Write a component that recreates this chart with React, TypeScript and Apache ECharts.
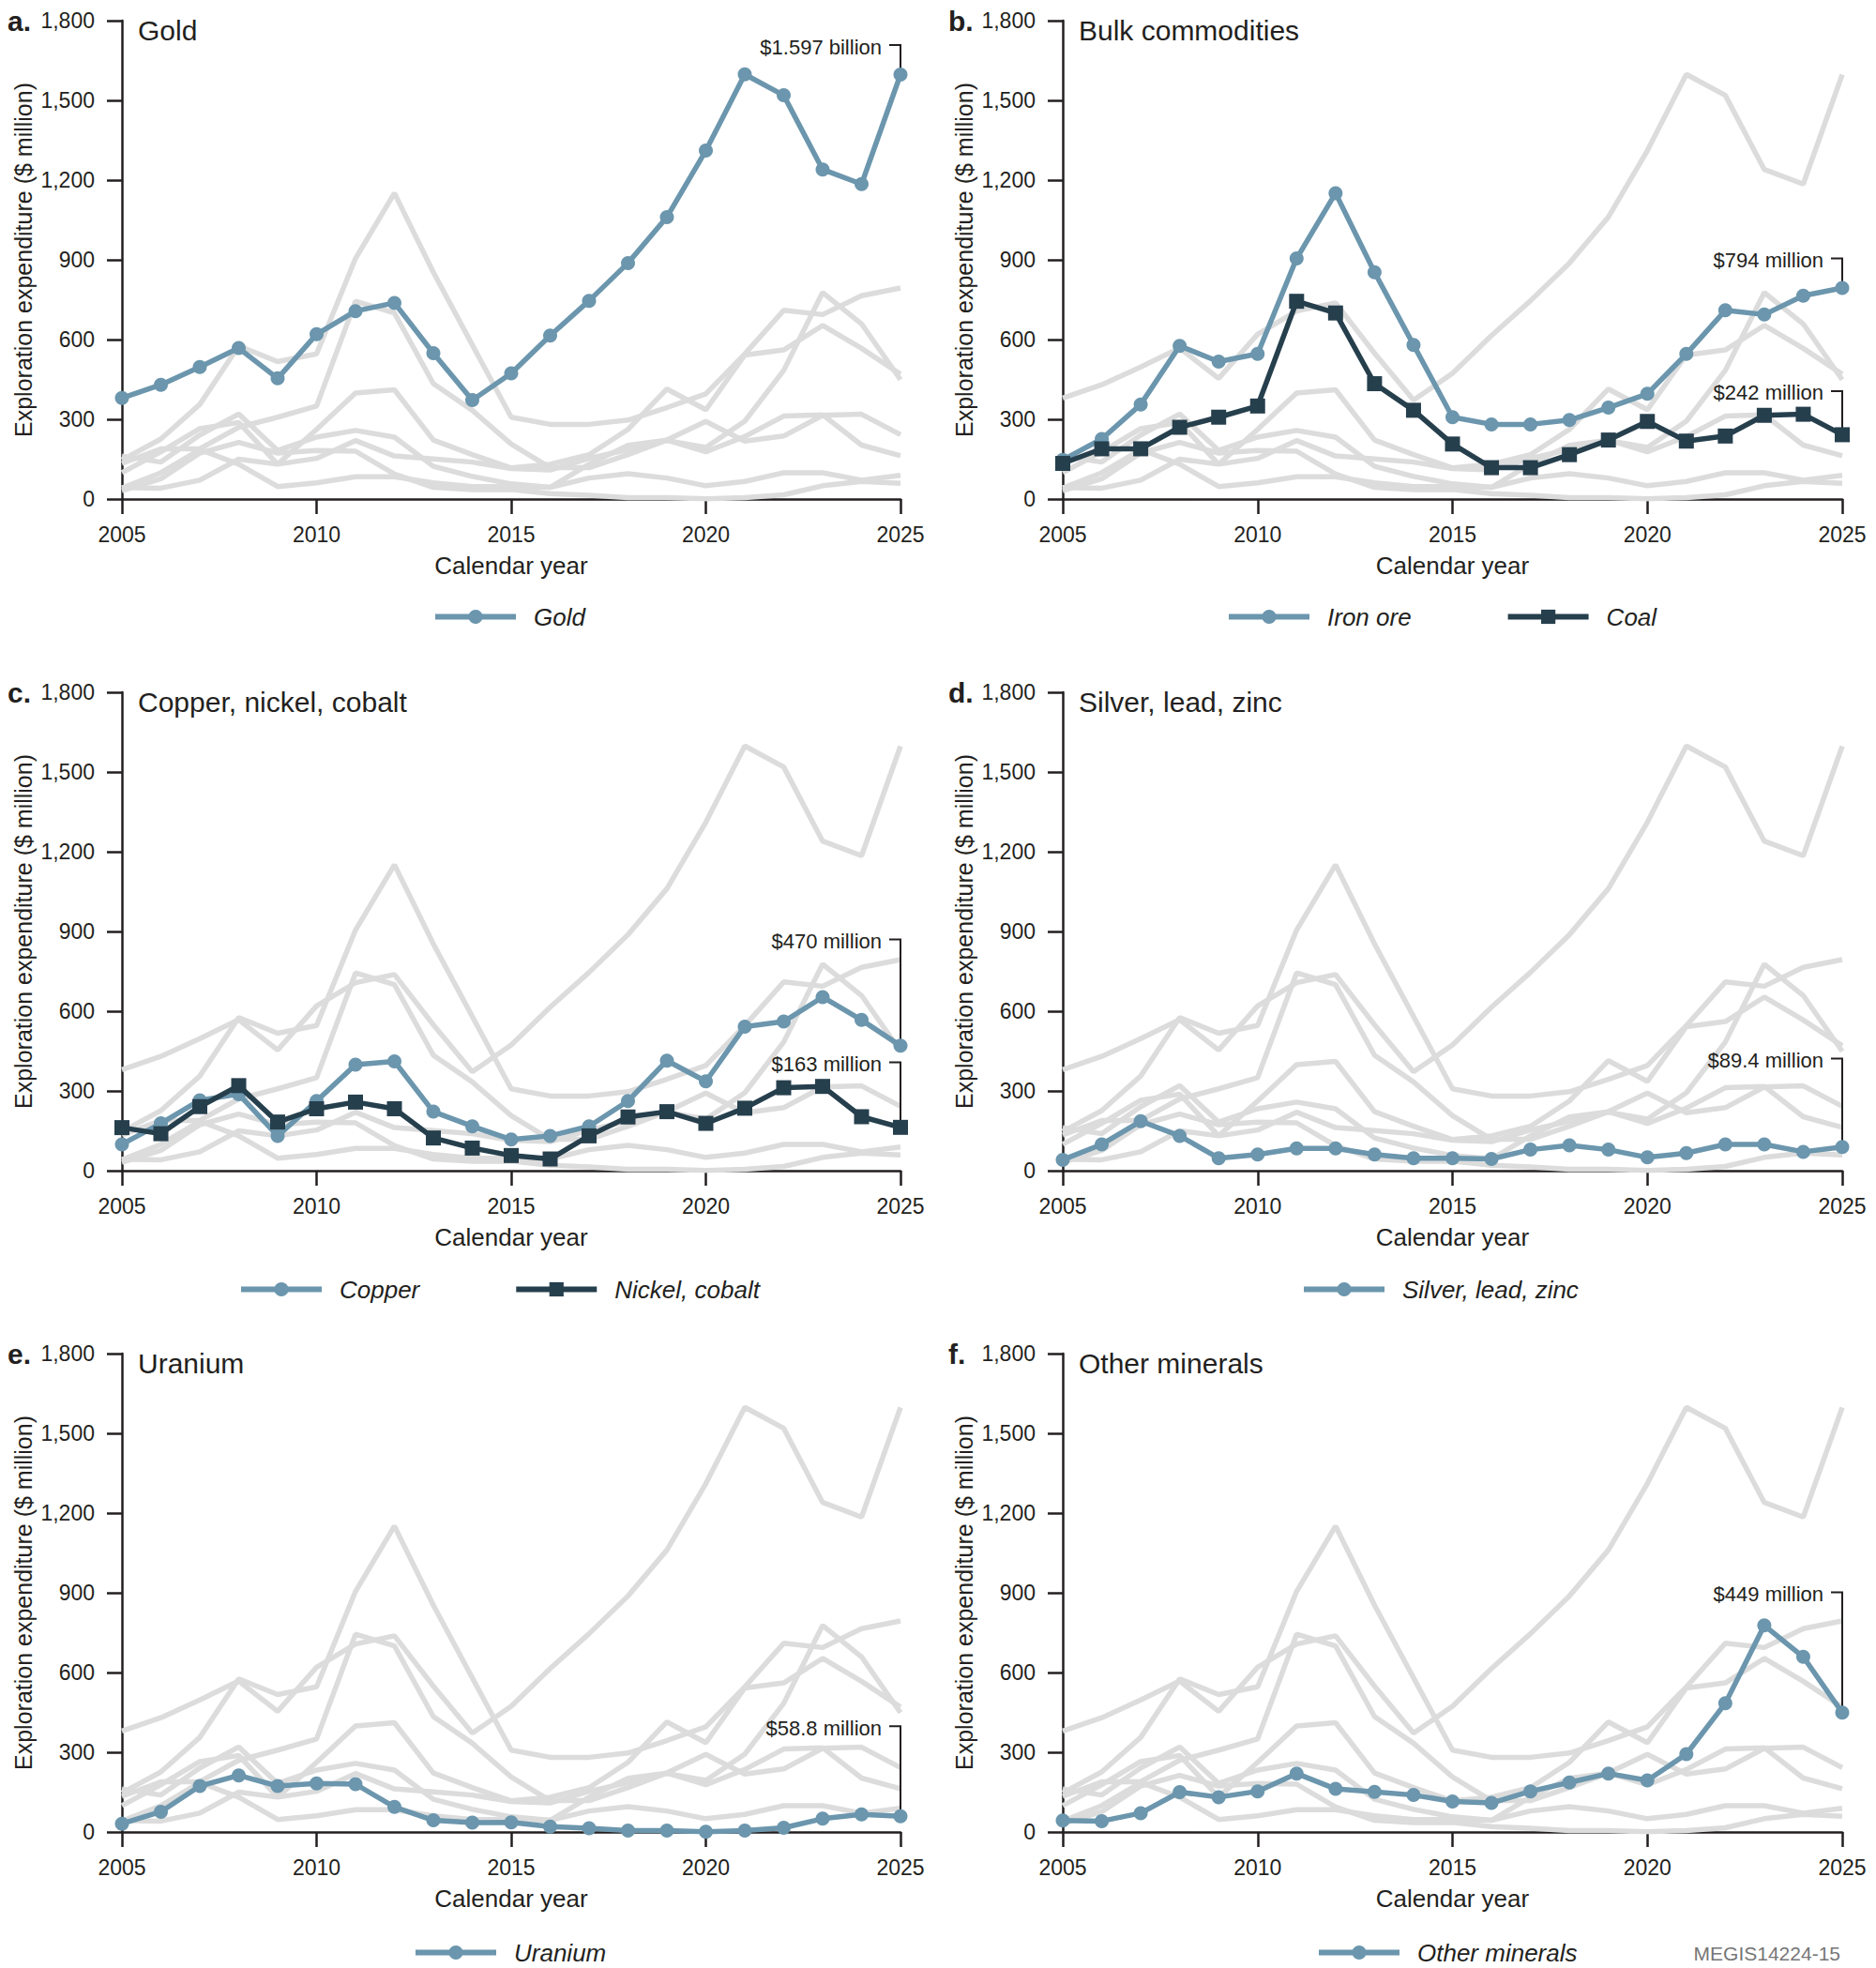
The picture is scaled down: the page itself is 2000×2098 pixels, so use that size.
import React, { useEffect, useRef } from "react";
import * as echarts from "echarts";

const years = [2005, 2006, 2007, 2008, 2009, 2010, 2011, 2012, 2013, 2014, 2015, 2016, 2017, 2018, 2019, 2020, 2021, 2022, 2023, 2024, 2025];

const gold = [380, 430, 497, 568, 454, 620, 707, 738, 549, 372, 473, 615, 746, 888, 1061, 1311, 1598, 1519, 1240, 1185, 1597];
const ironOre = [147, 226, 356, 576, 517, 546, 905, 1151, 853, 580, 308, 281, 281, 297, 344, 396, 546, 710, 694, 765, 794];
const coal = [134, 189, 189, 270, 308, 350, 744, 700, 434, 334, 207, 118, 118, 167, 222, 292, 218, 237, 315, 319, 242];
const copper = [99, 178, 265, 288, 131, 262, 399, 411, 222, 167, 117, 131, 167, 262, 414, 336, 542, 561, 653, 567, 470];
const nickelCobalt = [162, 139, 241, 320, 183, 233, 258, 233, 123, 85, 57, 44, 131, 202, 222, 178, 235, 312, 317, 203, 163];
const silverLeadZinc = [41, 99, 186, 131, 47, 61, 84, 84, 61, 47, 47, 44, 79, 95, 79, 50, 66, 99, 99, 71, 89.4];
const uranium = [31, 76, 173, 213, 173, 183, 180, 94, 44, 35, 36, 20, 14, 5, 5, 1, 5, 16, 50, 66, 58.8];
const otherMinerals = [43, 41, 71, 150, 131, 153, 220, 162, 151, 139, 115, 109, 153, 186, 220, 194, 293, 484, 777, 659, 449];

const yTicks = { min: 0, max: 1800, interval: 300 };
const xTicks = { min: 2005, max: 2025, interval: 5 };

const allSeries = [
  { key: "gold", name: "Gold", data: gold },
  { key: "iron", name: "Iron ore", data: ironOre },
  { key: "coal", name: "Coal", data: coal },
  { key: "copper", name: "Copper", data: copper },
  { key: "nickel", name: "Nickel, cobalt", data: nickelCobalt },
  { key: "silver", name: "Silver, lead, zinc", data: silverLeadZinc },
  { key: "uranium", name: "Uranium", data: uranium },
  { key: "other", name: "Other minerals", data: otherMinerals },
];

const panelLetters = ["a.", "b.", "c.", "d.", "e.", "f."];
const panelTitles = ["Gold", "Bulk commodities", "Copper, nickel, cobalt", "Silver, lead, zinc", "Uranium", "Other minerals"];
const panelHighlights = [
  [{ key: "gold", tone: "light" }],
  [{ key: "iron", tone: "light" }, { key: "coal", tone: "dark" }],
  [{ key: "copper", tone: "light" }, { key: "nickel", tone: "dark" }],
  [{ key: "silver", tone: "light" }],
  [{ key: "uranium", tone: "light" }],
  [{ key: "other", tone: "light" }],
];
const panelAnnotations = [
  [{ key: "gold", text: "$1.597 billion", labelAt: 1708 }],
  [{ key: "iron", text: "$794 million", labelAt: 905 }, { key: "coal", text: "$242 million", labelAt: 406 }],
  [{ key: "copper", text: "$470 million", labelAt: 870 }, { key: "nickel", text: "$163 million", labelAt: 408 }],
  [{ key: "silver", text: "$89.4 million", labelAt: 422 }],
  [{ key: "uranium", text: "$58.8 million", labelAt: 398 }],
  [{ key: "other", text: "$449 million", labelAt: 902 }],
];
const sourceNote = "MEGIS14224-15";

// layout
const cols = [{ left: 130, width: 830 }, { left: 1133, width: 831 }];
const rows = [{ top: 22, height: 510 }, { top: 738, height: 510 }, { top: 1443, height: 510 }];
const legendLeft = [461, 1307, 254, 1387, 440, 1403];
const legendCenterY = [654, 1371, 2078];

const FONT = "'Liberation Sans', Arial, Helvetica, sans-serif";
const INK = "#231f20";
const GREY = "#dcdcdc";
const LIGHT = "#6b96ad";
const DARK = "#263f4d";
const LEGEND_ITEM_H = 19;

export default function App() {
  const ref = useRef<HTMLDivElement>(null);

  useEffect(() => {
    document.body.style.margin = "0";
    const chart = echarts.init(ref.current!, null, { renderer: "svg" });

    const grid: any[] = [];
    const xAxis: any[] = [];
    const yAxis: any[] = [];
    const series: any[] = [];
    const legend: any[] = [];
    const title: any[] = [];

    for (let p = 0; p < 6; p++) {
      const c = cols[p % 2];
      const r = rows[Math.floor(p / 2)];
      grid.push({ left: c.left, top: r.top, width: c.width, height: r.height, containLabel: false });
      xAxis.push({
        gridIndex: p,
        type: "value",
        min: xTicks.min,
        max: xTicks.max,
        interval: xTicks.interval,
        name: "Calendar year",
        nameLocation: "middle",
        nameGap: 58,
        nameTextStyle: { fontFamily: FONT, fontSize: 26, color: INK },
        axisLine: { show: true, onZero: false, lineStyle: { color: INK, width: 2.5 } },
        axisTick: { show: true, inside: false, length: 16, lineStyle: { color: INK, width: 2.5 } },
        axisLabel: { margin: 26, fontFamily: FONT, fontSize: 23, color: INK, formatter: (v: number) => String(v) },
        splitLine: { show: false },
      });
      yAxis.push({
        gridIndex: p,
        type: "value",
        min: yTicks.min,
        max: yTicks.max,
        interval: yTicks.interval,
        name: "Exploration expenditure ($ million)",
        nameLocation: "middle",
        nameGap: 93,
        nameTextStyle: { fontFamily: FONT, fontSize: 25, color: INK },
        axisLine: { show: true, lineStyle: { color: INK, width: 2.5 } },
        axisTick: { show: true, inside: false, length: 16, lineStyle: { color: INK, width: 2.5 } },
        axisLabel: {
          margin: 29,
          fontFamily: FONT,
          fontSize: 23,
          color: INK,
          formatter: (v: number) => v.toLocaleString("en-US"),
        },
        splitLine: { show: false },
      });

      const hiKeys = panelHighlights[p].map((h) => h.key);
      allSeries.forEach((s) => {
        if (hiKeys.includes(s.key)) return;
        series.push({
          type: "line",
          name: `bg-${p}-${s.key}`,
          xAxisIndex: p,
          yAxisIndex: p,
          data: years.map((y, i) => [y, s.data[i]]),
          showSymbol: false,
          symbol: "none",
          lineStyle: { color: GREY, width: 5.5 },
          itemStyle: { color: GREY },
          z: 1,
          silent: true,
        });
      });
      const legendNames: string[] = [];
      panelHighlights[p].forEach((h, hi) => {
        const s = allSeries.find((a) => a.key === h.key)!;
        const color = h.tone === "light" ? LIGHT : DARK;
        legendNames.push(s.name);
        series.push({
          type: "line",
          name: s.name,
          xAxisIndex: p,
          yAxisIndex: p,
          data: years.map((y, i) => [y, s.data[i]]),
          symbol: h.tone === "light" ? "circle" : "rect",
          symbolSize: h.tone === "light" ? 15 : 16,
          showAllSymbol: true,
          lineStyle: { color, width: 5.5 },
          itemStyle: { color, borderWidth: 0 },
          z: 3 + hi,
        });
      });
      legend.push({
        data: legendNames,
        left: legendLeft[p],
        top: legendCenterY[Math.floor(p / 2)] - LEGEND_ITEM_H / 2,
        orient: "horizontal",
        itemWidth: 86,
        itemHeight: LEGEND_ITEM_H,
        itemGap: 100,
        selectedMode: false,
        padding: 0,
        lineStyle: { width: 6 },
        textStyle: { fontFamily: FONT, fontSize: 26, fontStyle: "italic", color: INK, padding: [0, 0, 0, 14] },
      });
      title.push({
        text: panelLetters[p],
        left: c.left - 122,
        top: r.top - 15,
        padding: 0,
        textStyle: { fontFamily: FONT, fontSize: 30, fontWeight: "bold", color: INK },
      });
      title.push({
        text: panelTitles[p],
        left: c.left + 17,
        top: r.top - 5,
        padding: 0,
        textStyle: { fontFamily: FONT, fontSize: 30, fontWeight: "normal", color: INK },
      });
    }

    chart.setOption({
      animation: false,
      backgroundColor: "#ffffff",
      grid,
      xAxis,
      yAxis,
      series,
      legend,
      title,
      tooltip: { show: false },
    });

    const graphics: any[] = [];
    for (let p = 0; p < 6; p++) {
      panelAnnotations[p].forEach((a) => {
        const s = allSeries.find((x) => x.key === a.key)!;
        const lastYear = years[years.length - 1];
        const lastVal = s.data[s.data.length - 1];
        const pt = chart.convertToPixel({ xAxisIndex: p, yAxisIndex: p }, [lastYear, lastVal]) as number[];
        const lb = chart.convertToPixel({ xAxisIndex: p, yAxisIndex: p }, [lastYear, a.labelAt]) as number[];
        graphics.push({
          type: "polyline",
          shape: { points: [[pt[0] - 12, lb[1]], [pt[0], lb[1]], [pt[0], pt[1] - 6]] },
          style: { stroke: INK, lineWidth: 2, fill: null },
          z: 2,
          silent: true,
        });
        graphics.push({
          type: "text",
          x: pt[0] - 20,
          y: lb[1] + 2,
          style: {
            text: a.text,
            fill: INK,
            font: `22px ${FONT}`,
            align: "right",
            verticalAlign: "middle",
          },
          z: 5,
          silent: true,
        });
      });
    }
    graphics.push({
      type: "text",
      x: 1962,
      y: 2082,
      style: { text: sourceNote, fill: "#767676", font: `21px ${FONT}`, align: "right", verticalAlign: "middle" },
      silent: true,
    });
    chart.setOption({ graphic: graphics });

    return () => chart.dispose();
  }, []);

  return <div ref={ref} style={{ width: 2000, height: 2098 }} />;
}
